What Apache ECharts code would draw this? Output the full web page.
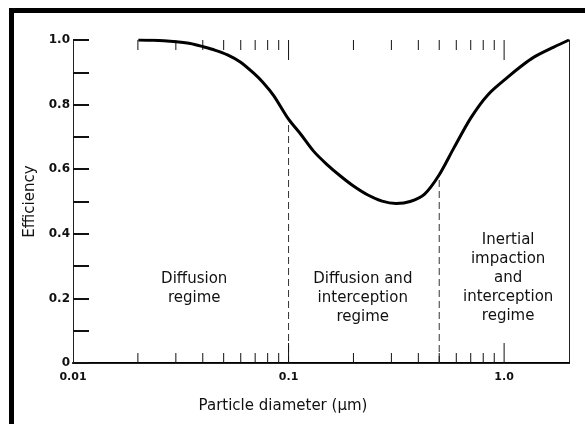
<!DOCTYPE html>
<html lang="en">

<head>
    <meta charset="UTF-8">
    <title>Efficiency</title>
    <style>
        * {
            margin: 0;
            padding: 0;
        }

        body {
            background: #fff;
        }

        .frame {
            position: absolute;
            left: 9px;
            top: 8px;
            width: 600px;
            height: 440px;
            border-top: 5px solid #000;
            border-left: 5px solid #000;
        }

        #main {
            position: absolute;
            left: 0;
            top: 0;
            width: 585px;
            height: 424px;
        }
    </style>
</head>

<body>
    <div class="frame"></div>
    <div id="main"></div>
</body>
<script src="https://cdn.jsdelivr.net/npm/echarts@6/dist/echarts.min.js"></script>
<script>
    // efficiency curve
    const diameter = [0.0201, 0.0236, 0.0292, 0.035, 0.0402, 0.0458, 0.0521, 0.0597, 0.0687, 0.0763, 0.0853,
        0.1, 0.1137, 0.1306, 0.15, 0.174, 0.2, 0.2335, 0.2717, 0.3154, 0.3665, 0.4277, 0.4993,
        0.5849, 0.701, 0.84, 1.04, 1.195, 1.375, 1.7, 2.0];
    const efficiency = [1.0, 0.999, 0.995, 0.989, 0.979, 0.968, 0.954, 0.932, 0.898, 0.868, 0.828,
        0.755, 0.709, 0.656, 0.616, 0.579, 0.548, 0.52, 0.501, 0.494, 0.5, 0.523, 0.582,
        0.666, 0.759, 0.83, 0.885, 0.918, 0.947, 0.978, 1.0];

    // regime boundaries (dashed lines)
    const boundaryX = [0.1, 0.5];
    const boundaryTop = [0.755, 0.582];

    // log axis ticks (minor 2..9, decades marked 1)
    const tickValues = [0.02, 0.03, 0.04, 0.05, 0.06, 0.07, 0.08, 0.09, 0.1,
        0.2, 0.3, 0.4, 0.5, 0.6, 0.7, 0.8, 0.9, 1.0];
    const tickMajor = [0, 0, 0, 0, 0, 0, 0, 0, 1, 0, 0, 0, 0, 0, 0, 0, 0, 1];

    // x tick labels
    const xLabelValues = [0.01, 0.1, 1];
    const xLabelText = ['0.01', '0.1', '1.0'];

    // regime labels
    const regimeText = ['Diffusion\nregime', 'Diffusion and\ninterception\nregime', 'Inertial\nimpaction\nand\ninterception\nregime'];
    const regimeX = [0.0365, 0.221, 1.044];
    const regimeY = [0.229, 0.201, 0.263];

    const textFont = 'DejaVu Sans';

    let series = [];
    series.push({
        type: 'line',
        data: diameter.map((d, i) => [d, efficiency[i]]),
        smooth: 0.3,
        symbol: 'none',
        lineStyle: { color: '#000', width: 3 },
        z: 5
    });
    boundaryX.forEach((bx, i) => {
        series.push({
            type: 'line',
            data: [[bx, 0], [bx, boundaryTop[i]]],
            symbol: 'none',
            lineStyle: { color: '#333', width: 1, type: [7, 4] },
            z: 3
        });
    });
    series.push({
        type: 'custom',
        data: tickValues.map((t, i) => [t, tickMajor[i]]),
        encode: { x: 0, y: 1 },
        clip: false,
        renderItem: function (params, api) {
            let x = api.value(0);
            let len = api.value(1) ? 20 : 10;
            let b = api.coord([x, 0]);
            let t = api.coord([x, 1]);
            let style = { stroke: '#111', lineWidth: 1 };
            return {
                type: 'group',
                children: [
                    { type: 'line', shape: { x1: b[0], y1: b[1], x2: b[0], y2: b[1] - len }, style: style },
                    { type: 'line', shape: { x1: t[0], y1: t[1], x2: t[0], y2: t[1] + len }, style: style }
                ]
            };
        },
        z: 4
    });
    series.push({
        type: 'scatter',
        symbolSize: 0,
        itemStyle: { opacity: 1 },
        data: regimeText.map((s, i) => ({ value: [regimeX[i], regimeY[i]], name: s })),
        label: {
            show: true,
            position: 'inside',
            formatter: p => p.name,
            fontFamily: textFont,
            fontSize: 15,
            lineHeight: 19,
            color: '#111',
            opacity: 1,
            align: 'center'
        },
        z: 6
    });

    function xLabel(v) {
        for (let i = 0; i < xLabelValues.length; i++) {
            if (Math.abs(Math.log10(v) - Math.log10(xLabelValues[i])) < 1e-6) return xLabelText[i];
        }
        return '';
    }

    let option = {
        animation: false,
        grid: {
            left: 73,
            top: 40,
            right: 16,
            bottom: 61
        },
        xAxis: [{
            type: 'log',
            logBase: 10,
            min: 0.01,
            max: 2,
            position: 'bottom',
            name: 'Particle diameter (\u00b5m)',
            nameLocation: 'middle',
            nameGap: 36,
            nameTextStyle: {
                fontFamily: textFont,
                fontSize: 15,
                color: '#111',
                padding: [0, 76, 0, 0]
            },
            axisLine: { lineStyle: { color: '#000', width: 2 } },
            axisTick: { show: false },
            minorTick: { show: false },
            splitLine: { show: false },
            axisLabel: {
                formatter: xLabel,
                fontFamily: textFont,
                fontWeight: 'bold',
                fontSize: 11,
                color: '#111',
                margin: 9
            }
        }, {
            type: 'log',
            logBase: 10,
            min: 0.01,
            max: 2,
            position: 'top',
            axisLine: { lineStyle: { color: '#222', width: 1 } },
            axisTick: { show: false },
            splitLine: { show: false },
            axisLabel: { show: false }
        }],
        yAxis: [{
            type: 'value',
            min: 0,
            max: 1,
            interval: 0.1,
            name: 'Efficiency',
            nameLocation: 'middle',
            nameGap: 34,
            nameTextStyle: {
                fontFamily: textFont,
                fontSize: 15,
                color: '#111'
            },
            axisLine: { show: true, lineStyle: { color: '#222', width: 1 } },
            axisTick: { show: true, inside: true, length: 16, lineStyle: { color: '#111', width: 2 } },
            splitLine: { show: false },
            axisLabel: {
                formatter: function (v) {
                    let k = Math.round(v * 10);
                    if (k % 2) return '';
                    return k === 0 ? '0' : (k / 10).toFixed(1);
                },
                fontFamily: textFont,
                fontWeight: 'bold',
                fontSize: 12,
                color: '#111',
                margin: 3
            }
        }, {
            type: 'value',
            min: 0,
            max: 1,
            position: 'right',
            axisLine: { show: true, lineStyle: { color: '#222', width: 1 } },
            axisTick: { show: false },
            splitLine: { show: false },
            axisLabel: { show: false }
        }],
        series: series
    };
    initChart(option);

    function initChart(option) {
        let myCharts = null
        myCharts = echarts.init(document.getElementById('main'))
        myCharts.clear()
        myCharts.setOption(option)
        window.addEventListener('resize', () => {
            myCharts.resize()
        })
    }
</script>

</html>
